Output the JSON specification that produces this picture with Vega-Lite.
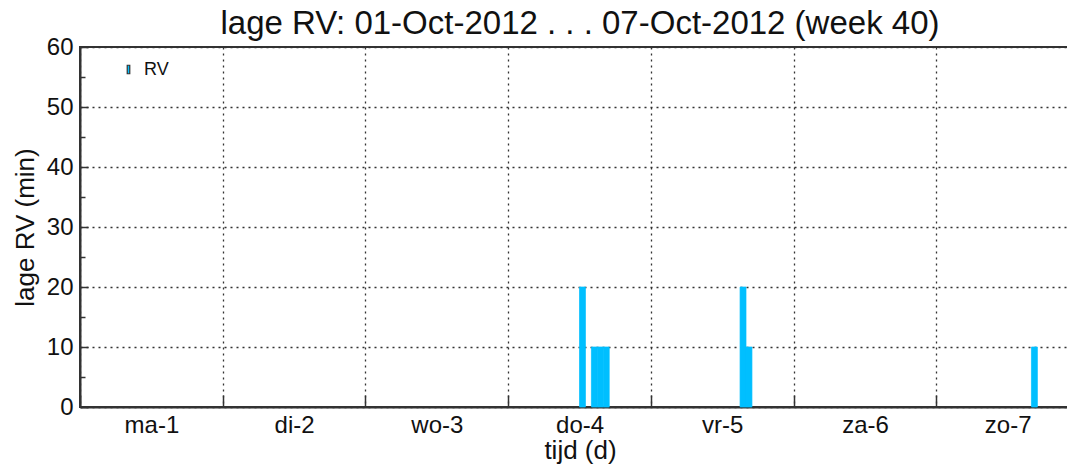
{
  "$schema": "https://vega.github.io/schema/vega-lite/v6.json",
  "autosize": "none",
  "width": 988,
  "height": 360,
  "padding": {"left": 80, "top": 47, "right": 0, "bottom": 60},
  "background": "white",
  "title": {
    "text": "lage RV: 01-Oct-2012 . . . 07-Oct-2012 (week 40)",
    "font": "Liberation Sans",
    "fontSize": 33,
    "fontWeight": "normal",
    "color": "#111",
    "anchor": "middle",
    "dx": 6,
    "dy": 45,
    "baseline": "alphabetic",
    "offset": 13
  },
  "data": {
    "values": [
      {"h": 84, "h2": 85, "min": 20, "serie": "RV"},
      {"h": 86, "h2": 87, "min": 10, "serie": "RV"},
      {"h": 87, "h2": 88, "min": 10, "serie": "RV"},
      {"h": 88, "h2": 89, "min": 10, "serie": "RV"},
      {"h": 111, "h2": 112, "min": 20, "serie": "RV"},
      {"h": 112, "h2": 113, "min": 10, "serie": "RV"},
      {"h": 160, "h2": 161, "min": 10, "serie": "RV"}
    ]
  },
  "layer": [
    {
      "mark": {"type": "bar", "binSpacing": 0, "stroke": "#00BFFF", "strokeWidth": 0.7},
      "encoding": {
        "x": {
          "field": "h",
          "type": "quantitative",
          "scale": {"domain": [0, 166.15], "nice": false, "zero": false},
          "axis": {
            "values": [0, 24, 48, 72, 96, 120, 144],
            "labelExpr": "['ma-1','di-2','wo-3','do-4','vr-5','za-6','zo-7'][round(datum.value/24)]",
            "labelOffset": 71.4,
            "labelFlush": false,
            "labelOverlap": false,
            "labelBaseline": "alphabetic",
            "labelPadding": 37,
            "tickSize": -12,
            "grid": true,
            "title": "tijd (d)",
            "titleX": 500,
            "titleY": 51,
            "titleBaseline": "alphabetic"
          }
        },
        "x2": {"field": "h2"},
        "y": {
          "field": "min",
          "type": "quantitative",
          "scale": {"domain": [0, 60], "nice": false},
          "axis": {
            "orient": "left",
            "values": [0, 10, 20, 30, 40, 50, 60],
            "tickSize": -8,
            "labelPadding": 15,
            "grid": true,
            "title": "lage RV (min)",
            "titleX": -47,
            "titleBaseline": "alphabetic"
          }
        },
        "y2": {"datum": 0},
        "color": {
          "field": "serie",
          "type": "nominal",
          "scale": {"range": ["#00BFFF"]},
          "legend": {
            "title": null,
            "orient": "none",
            "legendX": 39,
            "legendY": 13,
            "padding": 0,
            "symbolType": "M-0.15,-0.5H0.15V0.5H-0.15Z",
            "symbolSize": 289,
            "symbolStrokeColor": "#333",
            "symbolStrokeWidth": 1.2,
            "symbolOpacity": 1,
            "labelFont": "Liberation Sans",
            "labelFontSize": 18,
            "labelColor": "#111",
            "labelOffset": 6
          }
        }
      }
    },
    {
      "mark": {"type": "bar", "opacity": 0},
      "encoding": {
        "x": {"field": "h", "type": "quantitative"},
        "x2": {"field": "h2"},
        "y": {
          "field": "min",
          "type": "quantitative",
          "axis": {
            "orient": "left",
            "values": [5, 15, 25, 35, 45, 55],
            "tickSize": -5,
            "labels": false,
            "grid": false,
            "domain": false,
            "title": null
          }
        },
        "y2": {"datum": 0}
      }
    }
  ],
  "resolve": {"axis": {"y": "independent"}},
  "config": {
    "view": {"stroke": "#333", "strokeWidth": 2},
    "axis": {
      "labelFont": "Liberation Sans",
      "titleFont": "Liberation Sans",
      "labelFontSize": 24,
      "titleFontSize": 26,
      "titleFontWeight": "normal",
      "labelColor": "#111",
      "titleColor": "#111",
      "domainColor": "#333",
      "domainWidth": 2,
      "tickColor": "#333",
      "tickWidth": 1.5,
      "gridColor": "#333",
      "gridDash": [2, 4],
      "gridWidth": 1.3,
      "gridOpacity": 1
    }
  }
}
